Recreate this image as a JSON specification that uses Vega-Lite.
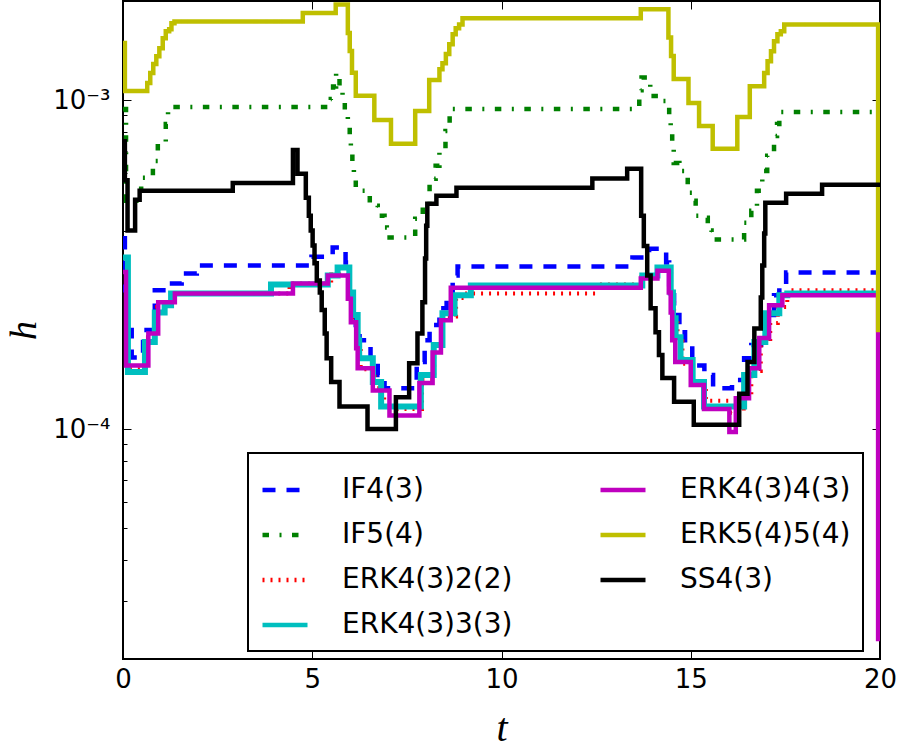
{
"$schema": "https://vega.github.io/schema/vega-lite/v6.json",
"width": 757, "height": 658,
"autosize": {"type": "none"},
"padding": {"left": 123, "top": 1, "right": 20, "bottom": 91},
"background": "white",
"config": {
  "view": {"stroke": "black", "strokeWidth": 2},
  "font": "DejaVu Sans",
  "axis": {"domain": false, "grid": false, "tickColor": "black", "tickWidth": 1, "labelColor": "black", "labelFont": "DejaVu Sans", "labelFontSize": 26, "titleColor": "black", "labelFlush": false, "labelOverlap": false}
},
"data": {"values": [
{"method":"IF4(3)","t":0,"h":3.8e-4},{"method":"IF4(3)","t":0.05,"h":2.64e-4},{"method":"IF4(3)","t":0.10,"h":2.0e-4},{"method":"IF4(3)","t":0.23,"h":1.65e-4},{"method":"IF4(3)","t":0.53,"h":2.0e-4},{"method":"IF4(3)","t":0.84,"h":2.64e-4},{"method":"IF4(3)","t":1.15,"h":2.77e-4},{"method":"IF4(3)","t":1.55,"h":2.97e-4},{"method":"IF4(3)","t":1.95,"h":3.14e-4},{"method":"IF4(3)","t":4.98,"h":3.34e-4},{"method":"IF4(3)","t":5.54,"h":3.56e-4},{"method":"IF4(3)","t":5.88,"h":3.21e-4},{"method":"IF4(3)","t":5.96,"h":2.73e-4},{"method":"IF4(3)","t":6.04,"h":2.38e-4},{"method":"IF4(3)","t":6.15,"h":2.07e-4},{"method":"IF4(3)","t":6.25,"h":1.86e-4},{"method":"IF4(3)","t":6.54,"h":1.60e-4},{"method":"IF4(3)","t":6.73,"h":1.46e-4},{"method":"IF4(3)","t":6.91,"h":1.33e-4},{"method":"IF4(3)","t":7.76,"h":1.60e-4},{"method":"IF4(3)","t":7.97,"h":1.86e-4},{"method":"IF4(3)","t":8.10,"h":2.07e-4},{"method":"IF4(3)","t":8.36,"h":2.33e-4},{"method":"IF4(3)","t":8.55,"h":2.60e-4},{"method":"IF4(3)","t":8.71,"h":2.93e-4},{"method":"IF4(3)","t":8.84,"h":3.12e-4},{"method":"IF4(3)","t":13.46,"h":3.32e-4},{"method":"IF4(3)","t":13.90,"h":3.53e-4},{"method":"IF4(3)","t":14.35,"h":3.21e-4},{"method":"IF4(3)","t":14.43,"h":2.55e-4},{"method":"IF4(3)","t":14.56,"h":2.22e-4},{"method":"IF4(3)","t":14.70,"h":1.97e-4},{"method":"IF4(3)","t":14.85,"h":1.80e-4},{"method":"IF4(3)","t":15.04,"h":1.56e-4},{"method":"IF4(3)","t":15.36,"h":1.46e-4},{"method":"IF4(3)","t":15.59,"h":1.33e-4},{"method":"IF4(3)","t":16.09,"h":1.41e-4},{"method":"IF4(3)","t":16.41,"h":1.64e-4},{"method":"IF4(3)","t":16.60,"h":1.80e-4},{"method":"IF4(3)","t":16.86,"h":1.93e-4},{"method":"IF4(3)","t":17.02,"h":2.22e-4},{"method":"IF4(3)","t":17.20,"h":2.55e-4},{"method":"IF4(3)","t":17.34,"h":2.69e-4},{"method":"IF4(3)","t":17.52,"h":2.99e-4},{"method":"IF4(3)","t":20,"h":2.99e-4},
{"method":"IF5(4)","t":0,"h":9.4e-4},{"method":"IF5(4)","t":0.08,"h":4.94e-4},{"method":"IF5(4)","t":0.48,"h":5.81e-4},{"method":"IF5(4)","t":0.79,"h":6.53e-4},{"method":"IF5(4)","t":0.92,"h":7.36e-4},{"method":"IF5(4)","t":1.13,"h":8.46e-4},{"method":"IF5(4)","t":1.19,"h":9.52e-4},{"method":"IF5(4)","t":5.49,"h":1.007e-3},{"method":"IF5(4)","t":5.55,"h":1.10e-3},{"method":"IF5(4)","t":5.63,"h":1.21e-3},{"method":"IF5(4)","t":5.72,"h":1.10e-3},{"method":"IF5(4)","t":5.80,"h":1.014e-3},{"method":"IF5(4)","t":5.86,"h":9.26e-4},{"method":"IF5(4)","t":5.94,"h":8.46e-4},{"method":"IF5(4)","t":5.99,"h":7.67e-4},{"method":"IF5(4)","t":6.02,"h":6.91e-4},{"method":"IF5(4)","t":6.06,"h":6.31e-4},{"method":"IF5(4)","t":6.10,"h":5.81e-4},{"method":"IF5(4)","t":6.15,"h":5.30e-4},{"method":"IF5(4)","t":6.52,"h":4.77e-4},{"method":"IF5(4)","t":6.73,"h":4.45e-4},{"method":"IF5(4)","t":6.91,"h":4.10e-4},{"method":"IF5(4)","t":6.97,"h":3.82e-4},{"method":"IF5(4)","t":7.72,"h":4.36e-4},{"method":"IF5(4)","t":7.92,"h":4.77e-4},{"method":"IF5(4)","t":8.10,"h":5.76e-4},{"method":"IF5(4)","t":8.26,"h":6.31e-4},{"method":"IF5(4)","t":8.36,"h":7.00e-4},{"method":"IF5(4)","t":8.52,"h":8.05e-4},{"method":"IF5(4)","t":8.63,"h":9.39e-4},{"method":"IF5(4)","t":13.64,"h":1.07e-3},{"method":"IF5(4)","t":13.70,"h":1.17e-3},{"method":"IF5(4)","t":13.93,"h":1.028e-3},{"method":"IF5(4)","t":14.17,"h":9.93e-4},{"method":"IF5(4)","t":14.40,"h":9.59e-4},{"method":"IF5(4)","t":14.43,"h":8.64e-4},{"method":"IF5(4)","t":14.47,"h":7.90e-4},{"method":"IF5(4)","t":14.51,"h":7.20e-4},{"method":"IF5(4)","t":14.55,"h":6.44e-4},{"method":"IF5(4)","t":14.70,"h":6.09e-4},{"method":"IF5(4)","t":14.87,"h":5.81e-4},{"method":"IF5(4)","t":14.92,"h":5.23e-4},{"method":"IF5(4)","t":15.09,"h":4.94e-4},{"method":"IF5(4)","t":15.13,"h":4.45e-4},{"method":"IF5(4)","t":15.40,"h":4.39e-4},{"method":"IF5(4)","t":15.45,"h":4.01e-4},{"method":"IF5(4)","t":15.55,"h":3.77e-4},{"method":"IF5(4)","t":16.41,"h":4.24e-4},{"method":"IF5(4)","t":16.60,"h":4.61e-4},{"method":"IF5(4)","t":16.75,"h":5.30e-4},{"method":"IF5(4)","t":16.89,"h":6.09e-4},{"method":"IF5(4)","t":17.02,"h":6.77e-4},{"method":"IF5(4)","t":17.20,"h":7.78e-4},{"method":"IF5(4)","t":17.28,"h":8.46e-4},{"method":"IF5(4)","t":17.34,"h":9.19e-4},{"method":"IF5(4)","t":20,"h":9.19e-4},
{"method":"ERK4(3)2(2)","t":0,"h":3.0e-4},{"method":"ERK4(3)2(2)","t":0.10,"h":1.52e-4},{"method":"ERK4(3)2(2)","t":0.60,"h":1.90e-4},{"method":"ERK4(3)2(2)","t":0.90,"h":2.35e-4},{"method":"ERK4(3)2(2)","t":1.20,"h":2.45e-4},{"method":"ERK4(3)2(2)","t":1.35,"h":2.58e-4},{"method":"ERK4(3)2(2)","t":4.40,"h":2.77e-4},{"method":"ERK4(3)2(2)","t":5.50,"h":2.95e-4},{"method":"ERK4(3)2(2)","t":5.97,"h":2.60e-4},{"method":"ERK4(3)2(2)","t":6.05,"h":2.15e-4},{"method":"ERK4(3)2(2)","t":6.18,"h":1.76e-4},{"method":"ERK4(3)2(2)","t":6.28,"h":1.52e-4},{"method":"ERK4(3)2(2)","t":6.65,"h":1.33e-4},{"method":"ERK4(3)2(2)","t":6.90,"h":1.15e-4},{"method":"ERK4(3)2(2)","t":7.90,"h":1.42e-4},{"method":"ERK4(3)2(2)","t":8.22,"h":1.75e-4},{"method":"ERK4(3)2(2)","t":8.45,"h":2.20e-4},{"method":"ERK4(3)2(2)","t":8.80,"h":2.50e-4},{"method":"ERK4(3)2(2)","t":9.00,"h":2.58e-4},{"method":"ERK4(3)2(2)","t":12.48,"h":2.75e-4},{"method":"ERK4(3)2(2)","t":13.70,"h":2.90e-4},{"method":"ERK4(3)2(2)","t":14.10,"h":3.05e-4},{"method":"ERK4(3)2(2)","t":14.48,"h":2.55e-4},{"method":"ERK4(3)2(2)","t":14.56,"h":2.15e-4},{"method":"ERK4(3)2(2)","t":14.65,"h":1.85e-4},{"method":"ERK4(3)2(2)","t":14.78,"h":1.58e-4},{"method":"ERK4(3)2(2)","t":15.05,"h":1.36e-4},{"method":"ERK4(3)2(2)","t":15.40,"h":1.22e-4},{"method":"ERK4(3)2(2)","t":16.05,"h":1.12e-4},{"method":"ERK4(3)2(2)","t":16.40,"h":1.27e-4},{"method":"ERK4(3)2(2)","t":16.60,"h":1.50e-4},{"method":"ERK4(3)2(2)","t":16.85,"h":1.83e-4},{"method":"ERK4(3)2(2)","t":17.10,"h":2.10e-4},{"method":"ERK4(3)2(2)","t":17.30,"h":2.35e-4},{"method":"ERK4(3)2(2)","t":17.55,"h":2.64e-4},{"method":"ERK4(3)2(2)","t":20,"h":2.64e-4},
{"method":"ERK4(3)3(3)","t":0,"h":3.32e-4},{"method":"ERK4(3)3(3)","t":0.13,"h":1.49e-4},{"method":"ERK4(3)3(3)","t":0.58,"h":1.84e-4},{"method":"ERK4(3)3(3)","t":0.84,"h":2.26e-4},{"method":"ERK4(3)3(3)","t":1.10,"h":2.38e-4},{"method":"ERK4(3)3(3)","t":1.27,"h":2.58e-4},{"method":"ERK4(3)3(3)","t":3.91,"h":2.75e-4},{"method":"ERK4(3)3(3)","t":5.41,"h":2.93e-4},{"method":"ERK4(3)3(3)","t":5.67,"h":3.10e-4},{"method":"ERK4(3)3(3)","t":5.98,"h":2.60e-4},{"method":"ERK4(3)3(3)","t":6.08,"h":2.22e-4},{"method":"ERK4(3)3(3)","t":6.20,"h":1.86e-4},{"method":"ERK4(3)3(3)","t":6.24,"h":1.64e-4},{"method":"ERK4(3)3(3)","t":6.60,"h":1.39e-4},{"method":"ERK4(3)3(3)","t":6.82,"h":1.17e-4},{"method":"ERK4(3)3(3)","t":7.87,"h":1.46e-4},{"method":"ERK4(3)3(3)","t":8.21,"h":1.80e-4},{"method":"ERK4(3)3(3)","t":8.44,"h":2.25e-4},{"method":"ERK4(3)3(3)","t":8.76,"h":2.55e-4},{"method":"ERK4(3)3(3)","t":9.19,"h":2.73e-4},{"method":"ERK4(3)3(3)","t":13.72,"h":2.93e-4},{"method":"ERK4(3)3(3)","t":14.12,"h":3.10e-4},{"method":"ERK4(3)3(3)","t":14.47,"h":2.60e-4},{"method":"ERK4(3)3(3)","t":14.53,"h":2.17e-4},{"method":"ERK4(3)3(3)","t":14.60,"h":1.90e-4},{"method":"ERK4(3)3(3)","t":14.73,"h":1.62e-4},{"method":"ERK4(3)3(3)","t":15.05,"h":1.39e-4},{"method":"ERK4(3)3(3)","t":15.35,"h":1.17e-4},{"method":"ERK4(3)3(3)","t":16.41,"h":1.46e-4},{"method":"ERK4(3)3(3)","t":16.68,"h":1.84e-4},{"method":"ERK4(3)3(3)","t":16.97,"h":2.25e-4},{"method":"ERK4(3)3(3)","t":17.34,"h":2.55e-4},{"method":"ERK4(3)3(3)","t":17.55,"h":2.58e-4},{"method":"ERK4(3)3(3)","t":20,"h":2.58e-4},
{"method":"ERK4(3)4(3)","t":0,"h":3.0e-4},{"method":"ERK4(3)4(3)","t":0.08,"h":1.56e-4},{"method":"ERK4(3)4(3)","t":0.67,"h":1.95e-4},{"method":"ERK4(3)4(3)","t":0.93,"h":2.43e-4},{"method":"ERK4(3)4(3)","t":1.37,"h":2.58e-4},{"method":"ERK4(3)4(3)","t":4.49,"h":2.77e-4},{"method":"ERK4(3)4(3)","t":5.41,"h":2.93e-4},{"method":"ERK4(3)4(3)","t":5.94,"h":2.49e-4},{"method":"ERK4(3)4(3)","t":6.02,"h":2.11e-4},{"method":"ERK4(3)4(3)","t":6.16,"h":1.76e-4},{"method":"ERK4(3)4(3)","t":6.20,"h":1.53e-4},{"method":"ERK4(3)4(3)","t":6.60,"h":1.31e-4},{"method":"ERK4(3)4(3)","t":7.04,"h":1.10e-4},{"method":"ERK4(3)4(3)","t":7.83,"h":1.38e-4},{"method":"ERK4(3)4(3)","t":8.18,"h":1.71e-4},{"method":"ERK4(3)4(3)","t":8.40,"h":2.14e-4},{"method":"ERK4(3)4(3)","t":8.66,"h":2.69e-4},{"method":"ERK4(3)4(3)","t":13.68,"h":2.87e-4},{"method":"ERK4(3)4(3)","t":14.12,"h":3.03e-4},{"method":"ERK4(3)4(3)","t":14.42,"h":2.60e-4},{"method":"ERK4(3)4(3)","t":14.47,"h":2.26e-4},{"method":"ERK4(3)4(3)","t":14.51,"h":1.86e-4},{"method":"ERK4(3)4(3)","t":14.59,"h":1.60e-4},{"method":"ERK4(3)4(3)","t":15.00,"h":1.36e-4},{"method":"ERK4(3)4(3)","t":15.35,"h":1.15e-4},{"method":"ERK4(3)4(3)","t":16.02,"h":9.8e-5},{"method":"ERK4(3)4(3)","t":16.19,"h":1.24e-4},{"method":"ERK4(3)4(3)","t":16.54,"h":1.53e-4},{"method":"ERK4(3)4(3)","t":16.81,"h":1.89e-4},{"method":"ERK4(3)4(3)","t":17.07,"h":2.38e-4},{"method":"ERK4(3)4(3)","t":17.42,"h":2.55e-4},{"method":"ERK4(3)4(3)","t":19.95,"h":2.3e-5},{"method":"ERK4(3)4(3)","t":20,"h":2.3e-5},
{"method":"ERK5(4)5(4)","t":0,"h":1.49e-3},{"method":"ERK5(4)5(4)","t":0.05,"h":1.065e-3},{"method":"ERK5(4)5(4)","t":0.64,"h":1.127e-3},{"method":"ERK5(4)5(4)","t":0.72,"h":1.208e-3},{"method":"ERK5(4)5(4)","t":0.80,"h":1.286e-3},{"method":"ERK5(4)5(4)","t":0.88,"h":1.358e-3},{"method":"ERK5(4)5(4)","t":0.96,"h":1.438e-3},{"method":"ERK5(4)5(4)","t":1.05,"h":1.541e-3},{"method":"ERK5(4)5(4)","t":1.13,"h":1.618e-3},{"method":"ERK5(4)5(4)","t":1.22,"h":1.641e-3},{"method":"ERK5(4)5(4)","t":1.28,"h":1.713e-3},{"method":"ERK5(4)5(4)","t":1.36,"h":1.734e-3},{"method":"ERK5(4)5(4)","t":4.75,"h":1.84e-3},{"method":"ERK5(4)5(4)","t":5.62,"h":1.95e-3},{"method":"ERK5(4)5(4)","t":5.94,"h":1.60e-3},{"method":"ERK5(4)5(4)","t":5.99,"h":1.41e-3},{"method":"ERK5(4)5(4)","t":6.05,"h":1.21e-3},{"method":"ERK5(4)5(4)","t":6.15,"h":1.03e-3},{"method":"ERK5(4)5(4)","t":6.64,"h":8.7e-4},{"method":"ERK5(4)5(4)","t":7.08,"h":7.36e-4},{"method":"ERK5(4)5(4)","t":7.72,"h":9.26e-4},{"method":"ERK5(4)5(4)","t":8.09,"h":1.15e-3},{"method":"ERK5(4)5(4)","t":8.36,"h":1.24e-3},{"method":"ERK5(4)5(4)","t":8.44,"h":1.294e-3},{"method":"ERK5(4)5(4)","t":8.53,"h":1.379e-3},{"method":"ERK5(4)5(4)","t":8.62,"h":1.478e-3},{"method":"ERK5(4)5(4)","t":8.71,"h":1.585e-3},{"method":"ERK5(4)5(4)","t":8.79,"h":1.653e-3},{"method":"ERK5(4)5(4)","t":8.88,"h":1.697e-3},{"method":"ERK5(4)5(4)","t":8.97,"h":1.772e-3},{"method":"ERK5(4)5(4)","t":13.68,"h":1.888e-3},{"method":"ERK5(4)5(4)","t":14.41,"h":1.55e-3},{"method":"ERK5(4)5(4)","t":14.48,"h":1.36e-3},{"method":"ERK5(4)5(4)","t":14.55,"h":1.158e-3},{"method":"ERK5(4)5(4)","t":14.94,"h":9.79e-4},{"method":"ERK5(4)5(4)","t":15.22,"h":8.34e-4},{"method":"ERK5(4)5(4)","t":15.58,"h":7.11e-4},{"method":"ERK5(4)5(4)","t":16.23,"h":8.88e-4},{"method":"ERK5(4)5(4)","t":16.56,"h":1.102e-3},{"method":"ERK5(4)5(4)","t":16.94,"h":1.208e-3},{"method":"ERK5(4)5(4)","t":17.03,"h":1.312e-3},{"method":"ERK5(4)5(4)","t":17.12,"h":1.407e-3},{"method":"ERK5(4)5(4)","t":17.20,"h":1.51e-3},{"method":"ERK5(4)5(4)","t":17.29,"h":1.585e-3},{"method":"ERK5(4)5(4)","t":17.38,"h":1.618e-3},{"method":"ERK5(4)5(4)","t":17.47,"h":1.697e-3},{"method":"ERK5(4)5(4)","t":19.95,"h":2.0e-4},{"method":"ERK5(4)5(4)","t":20,"h":2.0e-4},
{"method":"SS4(3)","t":0,"h":7.5e-4},{"method":"SS4(3)","t":0.05,"h":5.7e-4},{"method":"SS4(3)","t":0.12,"h":4.01e-4},{"method":"SS4(3)","t":0.32,"h":4.98e-4},{"method":"SS4(3)","t":0.44,"h":5.30e-4},{"method":"SS4(3)","t":2.90,"h":5.60e-4},{"method":"SS4(3)","t":4.49,"h":7.05e-4},{"method":"SS4(3)","t":4.61,"h":5.97e-4},{"method":"SS4(3)","t":4.83,"h":5.05e-4},{"method":"SS4(3)","t":4.91,"h":4.45e-4},{"method":"SS4(3)","t":4.96,"h":4.01e-4},{"method":"SS4(3)","t":5.01,"h":3.61e-4},{"method":"SS4(3)","t":5.06,"h":3.19e-4},{"method":"SS4(3)","t":5.12,"h":2.83e-4},{"method":"SS4(3)","t":5.20,"h":2.60e-4},{"method":"SS4(3)","t":5.25,"h":2.30e-4},{"method":"SS4(3)","t":5.33,"h":1.95e-4},{"method":"SS4(3)","t":5.38,"h":1.64e-4},{"method":"SS4(3)","t":5.50,"h":1.39e-4},{"method":"SS4(3)","t":5.72,"h":1.17e-4},{"method":"SS4(3)","t":6.46,"h":1.0e-4},{"method":"SS4(3)","t":7.21,"h":1.25e-4},{"method":"SS4(3)","t":7.56,"h":1.585e-4},{"method":"SS4(3)","t":7.78,"h":1.95e-4},{"method":"SS4(3)","t":7.91,"h":2.43e-4},{"method":"SS4(3)","t":7.98,"h":3.30e-4},{"method":"SS4(3)","t":8.01,"h":4.15e-4},{"method":"SS4(3)","t":8.04,"h":4.84e-4},{"method":"SS4(3)","t":8.28,"h":5.12e-4},{"method":"SS4(3)","t":8.81,"h":5.41e-4},{"method":"SS4(3)","t":12.40,"h":5.77e-4},{"method":"SS4(3)","t":13.32,"h":6.18e-4},{"method":"SS4(3)","t":13.69,"h":4.45e-4},{"method":"SS4(3)","t":13.76,"h":3.6e-4},{"method":"SS4(3)","t":13.85,"h":2.93e-4},{"method":"SS4(3)","t":13.94,"h":2.33e-4},{"method":"SS4(3)","t":14.07,"h":1.97e-4},{"method":"SS4(3)","t":14.16,"h":1.68e-4},{"method":"SS4(3)","t":14.25,"h":1.43e-4},{"method":"SS4(3)","t":14.56,"h":1.21e-4},{"method":"SS4(3)","t":15.08,"h":1.03e-4},{"method":"SS4(3)","t":16.28,"h":1.28e-4},{"method":"SS4(3)","t":16.50,"h":1.60e-4},{"method":"SS4(3)","t":16.68,"h":2.02e-4},{"method":"SS4(3)","t":16.85,"h":2.51e-4},{"method":"SS4(3)","t":16.89,"h":3.14e-4},{"method":"SS4(3)","t":16.94,"h":3.93e-4},{"method":"SS4(3)","t":16.97,"h":4.87e-4},{"method":"SS4(3)","t":17.52,"h":5.19e-4},{"method":"SS4(3)","t":18.47,"h":5.53e-4},{"method":"SS4(3)","t":20,"h":5.53e-4}
]},
"layer": [
  {
    "encoding": {
      "x": {"field": "t", "type": "quantitative",
        "scale": {"domain": [0, 20], "nice": false, "zero": false},
        "axis": {"orient": "bottom", "values": [0, 5, 10, 15, 20], "tickSize": -8, "labelPadding": 15,
          "title": "t", "titleFont": "Liberation Serif", "titleFontStyle": "italic", "titleFontWeight": "normal", "titleFontSize": 40,
          "titleBaseline": "alphabetic", "titleY": 81}},
      "y": {"field": "h", "type": "quantitative",
        "scale": {"type": "log", "domain": [2e-5, 2e-3], "nice": false},
        "axis": {"orient": "left",
          "values": [2e-5, 3e-5, 4e-5, 5e-5, 6e-5, 7e-5, 8e-5, 9e-5, 1e-4, 2e-4, 3e-4, 4e-4, 5e-4, 6e-4, 7e-4, 8e-4, 9e-4, 1e-3, 2e-3],
          "labelExpr": "abs(datum.value - 0.001) < 1e-9 ? '10⁻³' : (abs(datum.value - 0.0001) < 1e-10 ? '10⁻⁴' : '')",
          "tickSize": {"condition": {"test": "abs(datum.value - 0.001) < 1e-9 || abs(datum.value - 0.0001) < 1e-10", "value": -8}, "value": -4},
          "labelPadding": 21,
          "title": "h", "titleFont": "Liberation Serif", "titleFontStyle": "italic", "titleFontWeight": "normal", "titleFontSize": 38,
          "titleBaseline": "alphabetic", "titleX": -88, "titleY": 329}},
      "color": {"field": "method", "type": "nominal",
        "scale": {"domain": ["IF4(3)", "IF5(4)", "ERK4(3)2(2)", "ERK4(3)3(3)", "ERK4(3)4(3)", "ERK5(4)5(4)", "SS4(3)"],
                  "range": ["#0000ff", "#008000", "#ff0000", "#00bfbf", "#bf00bf", "#bfbf00", "#000000"]},
        "legend": {"title": null, "orient": "none", "legendX": 125, "legendY": 452, "columns": 2,
          "symbolType": "stroke", "symbolSize": 2025, "symbolStrokeWidth": 4.5,
          "labelFontSize": 28, "labelFont": "DejaVu Sans", "labelColor": "black", "labelOffset": 32, "labelLimit": 400,
          "columnPadding": 78, "rowPadding": 6, "padding": 12, "strokeColor": "black", "fillColor": "white",
          "encode": {"legend": {"update": {"strokeWidth": {"value": 2}}}}}},
      "strokeDash": {"field": "method", "type": "nominal",
        "scale": {"domain": ["IF4(3)", "IF5(4)", "ERK4(3)2(2)", "ERK4(3)3(3)", "ERK4(3)4(3)", "ERK5(4)5(4)", "SS4(3)"],
                  "range": [[13, 11], [6.5, 10.5, 2, 10.5], [2, 6], [1, 0], [1, 0], [1, 0], [1, 0]]},
        "legend": {"title": null, "orient": "none", "legendX": 125, "legendY": 452, "columns": 2,
          "symbolType": "stroke", "symbolSize": 2025, "symbolStrokeWidth": 4.5,
          "labelFontSize": 28, "labelFont": "DejaVu Sans", "labelColor": "black", "labelOffset": 32, "labelLimit": 400,
          "columnPadding": 78, "rowPadding": 6, "padding": 12, "strokeColor": "black", "fillColor": "white",
          "encode": {"legend": {"update": {"strokeWidth": {"value": 2}}}}}}
    },
    "layer": [
      {"transform": [{"filter": "datum.method === 'IF4(3)'"}], "mark": {"type": "line", "interpolate": "step-after", "strokeWidth": 4.5, "clip": true}},
      {"transform": [{"filter": "datum.method === 'IF5(4)'"}], "mark": {"type": "line", "interpolate": "step-after", "strokeWidth": 4.5, "clip": true}},
      {"transform": [{"filter": "datum.method === 'ERK4(3)2(2)'"}], "mark": {"type": "line", "interpolate": "step-after", "strokeWidth": 4, "clip": true}},
      {"transform": [{"filter": "datum.method === 'ERK4(3)3(3)'"}], "mark": {"type": "line", "interpolate": "step-after", "strokeWidth": 6, "clip": true}},
      {"transform": [{"filter": "datum.method === 'ERK4(3)4(3)'"}], "mark": {"type": "line", "interpolate": "step-after", "strokeWidth": 4.5, "clip": true}},
      {"transform": [{"filter": "datum.method === 'ERK5(4)5(4)'"}], "mark": {"type": "line", "interpolate": "step-after", "strokeWidth": 4.5, "clip": true}},
      {"transform": [{"filter": "datum.method === 'SS4(3)'"}], "mark": {"type": "line", "interpolate": "step-after", "strokeWidth": 4.5, "clip": true}}
    ]
  },
  {
    "mark": {"type": "point", "opacity": 0},
    "encoding": {
      "x": {"field": "t", "type": "quantitative",
        "scale": {"domain": [0, 20], "nice": false, "zero": false},
        "axis": {"orient": "top", "values": [0, 5, 10, 15, 20], "tickSize": -8, "labels": false, "title": null}},
      "y": {"field": "h", "type": "quantitative",
        "scale": {"type": "log", "domain": [2e-5, 2e-3], "nice": false},
        "axis": {"orient": "right",
          "values": [2e-5, 3e-5, 4e-5, 5e-5, 6e-5, 7e-5, 8e-5, 9e-5, 1e-4, 2e-4, 3e-4, 4e-4, 5e-4, 6e-4, 7e-4, 8e-4, 9e-4, 1e-3, 2e-3],
          "tickSize": {"condition": {"test": "abs(datum.value - 0.001) < 1e-9 || abs(datum.value - 0.0001) < 1e-10", "value": -8}, "value": -4},
          "labels": false, "title": null}}
    }
  }
],
"resolve": {"axis": {"x": "independent", "y": "independent"}}
}
